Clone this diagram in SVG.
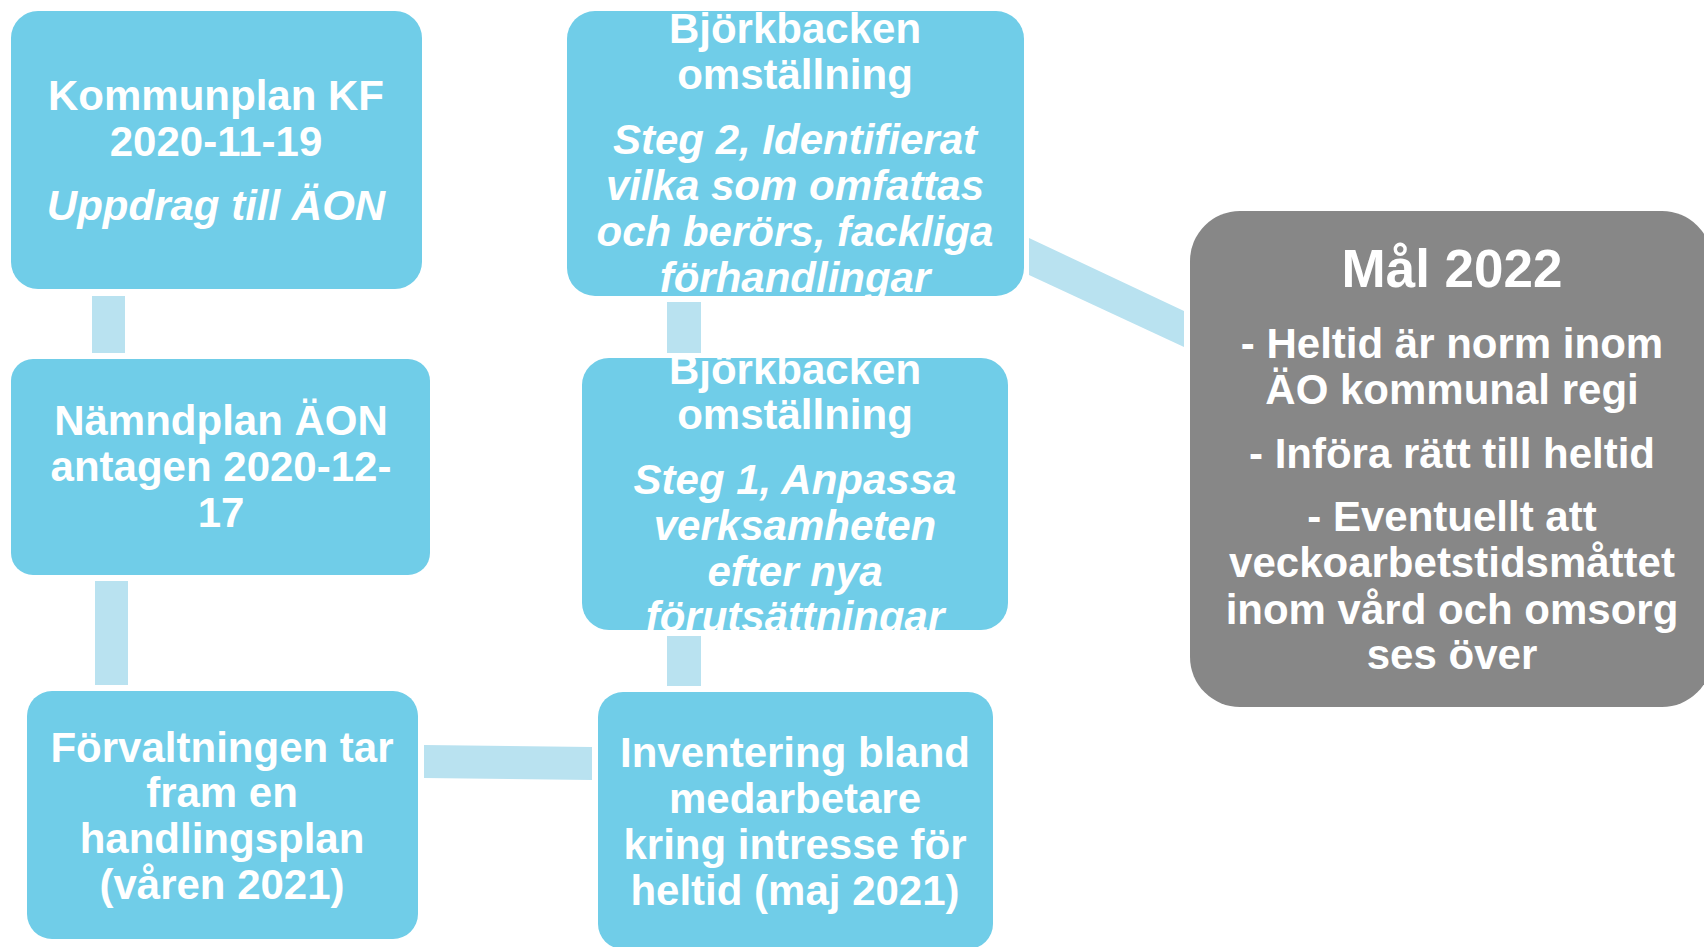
<svg xmlns="http://www.w3.org/2000/svg" width="1704" height="947" viewBox="0 0 1704 947">
<style>
.box{fill:#70CDE8}
.goal{fill:#878787}
.con{fill:#B9E2F0}
text{font-family:"Liberation Sans",Arial,sans-serif;font-weight:bold;font-size:42px;fill:#FFFFFF;text-anchor:middle}
.it{font-style:italic}
.big{font-size:53px}
</style>
<defs>
<clipPath id="c5"><rect x="582" y="358" width="426" height="272" rx="27"/></clipPath>
<clipPath id="c6"><rect x="567" y="11" width="457" height="285" rx="28"/></clipPath>
</defs>
<rect width="1704" height="947" fill="#FFFFFF"/>
<g id="connectors">
<rect class="con" x="92" y="296" width="33" height="57"/>
<rect class="con" x="95" y="581" width="33" height="104"/>
<polygon class="con" points="424,745 592,747 592,780 424,778"/>
<rect class="con" x="667" y="636" width="34" height="50"/>
<rect class="con" x="667" y="302" width="34" height="51"/>
<polygon class="con" points="1029,238 1184,311 1184,347 1029,275"/>
</g>
<g id="kommunplan">
<rect class="box" x="11" y="11" width="411" height="278" rx="27"/>
<text x="216" y="110">Kommunplan KF</text>
<text x="216" y="156">2020-11-19</text>
<text class="it" x="216" y="220">Uppdrag till ÄON</text>
</g>
<g id="namndplan">
<rect class="box" x="11" y="359" width="419" height="216" rx="22"/>
<text x="221" y="435">Nämndplan ÄON</text>
<text x="221" y="481">antagen 2020-12-</text>
<text x="221" y="527">17</text>
</g>
<g id="forvaltningen">
<rect class="box" x="27" y="691" width="391" height="248" rx="25"/>
<text x="222" y="762">Förvaltningen tar</text>
<text x="222" y="807">fram en</text>
<text x="222" y="853">handlingsplan</text>
<text x="222" y="899">(våren 2021)</text>
</g>
<g id="inventering">
<rect class="box" x="598" y="692" width="395" height="257" rx="25"/>
<text x="795" y="767">Inventering bland</text>
<text x="795" y="813">medarbetare</text>
<text x="795" y="859">kring intresse för</text>
<text x="795" y="905">heltid (maj 2021)</text>
</g>
<g id="steg1">
<rect class="box" x="582" y="358" width="426" height="272" rx="27"/>
<g clip-path="url(#c5)">
<text x="795" y="384">Björkbacken</text>
<text x="795" y="429">omställning</text>
<text class="it" x="795" y="494">Steg 1, Anpassa</text>
<text class="it" x="795" y="540">verksamheten</text>
<text class="it" x="795" y="586">efter nya</text>
<text class="it" x="795" y="631">förutsättningar</text>
</g>
</g>
<g id="steg2">
<rect class="box" x="567" y="11" width="457" height="285" rx="28"/>
<g clip-path="url(#c6)">
<text x="795" y="43">Björkbacken</text>
<text x="795" y="89">omställning</text>
<text class="it" x="795" y="154">Steg 2, Identifierat</text>
<text class="it" x="795" y="200">vilka som omfattas</text>
<text class="it" x="795" y="246">och berörs, fackliga</text>
<text class="it" x="795" y="292">förhandlingar</text>
</g>
</g>
<g id="mal2022">
<rect class="goal" x="1190" y="211" width="522" height="496" rx="50"/>
<text class="big" x="1452" y="287">Mål 2022</text>
<text x="1452" y="358">- Heltid är norm inom</text>
<text x="1452" y="404">ÄO kommunal regi</text>
<text x="1452" y="468">- Införa rätt till heltid</text>
<text x="1452" y="531">- Eventuellt att</text>
<text x="1452" y="577">veckoarbetstidsmåttet</text>
<text x="1452" y="624">inom vård och omsorg</text>
<text x="1452" y="669">ses över</text>
</g>
</svg>
